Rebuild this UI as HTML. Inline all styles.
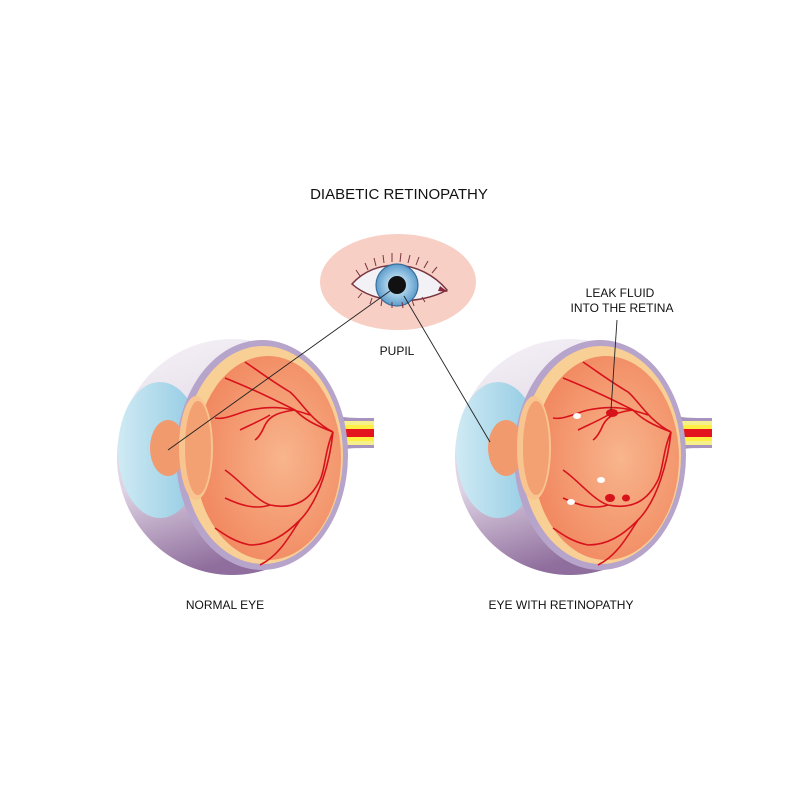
<!DOCTYPE html>
<html><head><meta charset="utf-8"><style>
html,body{margin:0;padding:0;background:#fff;}
svg{display:block;}
text{font-family:"Liberation Sans",sans-serif;fill:#111;}
</style></head><body>
<svg width="800" height="800" viewBox="0 0 800 800" xmlns="http://www.w3.org/2000/svg">
<defs>
<linearGradient id="shell" x1="0" y1="0" x2="0.3" y2="1">
<stop offset="0" stop-color="#f7f4f8"/><stop offset="0.6" stop-color="#ddd2e3"/><stop offset="1" stop-color="#8f6d9c"/></linearGradient>
<radialGradient id="org" cx="0.6" cy="0.5" r="0.6">
<stop offset="0" stop-color="#f8b58c"/><stop offset="1" stop-color="#f1875f"/></radialGradient>
<linearGradient id="corn" x1="0" y1="0" x2="1" y2="0">
<stop offset="0" stop-color="#cfeaf4"/><stop offset="1" stop-color="#8fc9e2"/></linearGradient>
<radialGradient id="iris" cx="0.5" cy="0.5" r="0.5">
<stop offset="0.3" stop-color="#bfe0f2"/><stop offset="1" stop-color="#5d9ccc"/></radialGradient>
<g id="eye">
<ellipse cx="232" cy="457" rx="115" ry="118" fill="url(#shell)"/>
<ellipse cx="160" cy="450" rx="42" ry="68" fill="url(#corn)"/>
<path d="M328 410 C338 418 345 418 374 418 L374 448 C345 448 338 448 328 458 Z" fill="#a893bf"/>
<rect x="330" y="421" width="44" height="24" fill="#f6f08a"/>
<rect x="330" y="425" width="44" height="16" fill="#ffee44"/>
<rect x="330" y="429" width="44" height="8" fill="#e4141e"/>
<ellipse cx="262" cy="455" rx="86" ry="115" fill="#b7a4cb"/>
<ellipse cx="263" cy="455" rx="80" ry="109" fill="#f8cf95"/>
<ellipse cx="268" cy="458" rx="73" ry="102" fill="url(#org)"/>
<ellipse cx="168" cy="448" rx="18" ry="28" fill="#f09a6e"/>
<ellipse cx="196" cy="448" rx="17" ry="52" fill="#f8c48f"/>
<ellipse cx="198" cy="448" rx="13" ry="47" fill="#f3a072"/>
<g fill="none" stroke="#d8121b" stroke-width="1.6">
<path d="M333 432 C310 420 300 400 290 392 C270 380 260 372 245 362"/>
<path d="M333 432 C315 425 305 420 295 410 C275 400 255 390 225 378"/>
<path d="M310 415 C290 408 275 405 250 410 C235 414 225 420 215 418"/>
<path d="M295 410 C280 412 270 415 265 425 C262 432 258 438 255 440"/>
<path d="M270 415 C262 420 250 425 240 430"/>
<path d="M333 432 C325 450 325 470 320 480 C310 500 295 510 270 505 C255 500 240 480 225 470"/>
<path d="M333 432 C330 460 320 500 300 520 C285 535 270 545 250 545 C235 542 225 535 215 528"/>
<path d="M270 505 C255 510 240 505 225 498"/>
<path d="M300 520 C290 535 280 555 260 565"/>
</g>
</g>
</defs>
<text x="399" y="199" font-size="15" text-anchor="middle">DIABETIC RETINOPATHY</text>
<ellipse cx="398" cy="282" rx="78" ry="48" fill="#f7cfc5"/>
<path d="M352 284 C375 258 420 258 447 290 C420 305 375 305 352 284 Z" fill="#f2f2f6" stroke="#7a3440" stroke-width="1.5"/>
<circle cx="397" cy="285" r="21" fill="url(#iris)" stroke="#3a6d9a" stroke-width="1.2"/>
<circle cx="397" cy="285" r="9" fill="#111"/>
<path d="M440 286 l8 6 l-10 -1 z" fill="#8a2a3a"/>
<g stroke="#7a3440" stroke-width="1" fill="none">
<path d="M360 276 l-4 -6 M368 270 l-3 -7 M376 266 l-2 -8 M384 263 l-1 -8 M392 262 l0 -9 M400 262 l1 -9 M408 263 l2 -8 M416 265 l3 -8 M424 268 l4 -7 M432 273 l5 -6"/>
<path d="M362 293 l-4 5 M372 298 l-2 6 M382 300 l-1 6 M392 302 l0 6 M402 302 l1 6 M412 300 l2 6 M422 297 l3 5"/>
</g>
<text x="397" y="355" font-size="12" text-anchor="middle">PUPIL</text>
<use href="#eye"/>
<use href="#eye" transform="translate(338,0)"/>
<g fill="#d8121b">
<ellipse cx="612" cy="413" rx="6" ry="4"/>
<ellipse cx="610" cy="498" rx="5" ry="4"/>
<ellipse cx="626" cy="498" rx="4" ry="3.5"/>
</g>
<g fill="#fff">
<ellipse cx="577" cy="416" rx="4" ry="3"/>
<ellipse cx="601" cy="480" rx="4" ry="3"/>
<ellipse cx="571" cy="502" rx="4" ry="3"/>
</g>
<g stroke="#222" stroke-width="0.9">
<line x1="390" y1="291" x2="168" y2="450"/>
<line x1="404" y1="296" x2="490" y2="442"/>
<line x1="617" y1="320" x2="611" y2="410"/>
</g>
<text x="620" y="297" font-size="12" text-anchor="middle">LEAK FLUID</text>
<text x="622" y="312" font-size="12" text-anchor="middle">INTO THE RETINA</text>
<text x="225" y="609" font-size="12" text-anchor="middle">NORMAL EYE</text>
<text x="561" y="609" font-size="12" text-anchor="middle">EYE WITH RETINOPATHY</text>
</svg>
</body></html>
